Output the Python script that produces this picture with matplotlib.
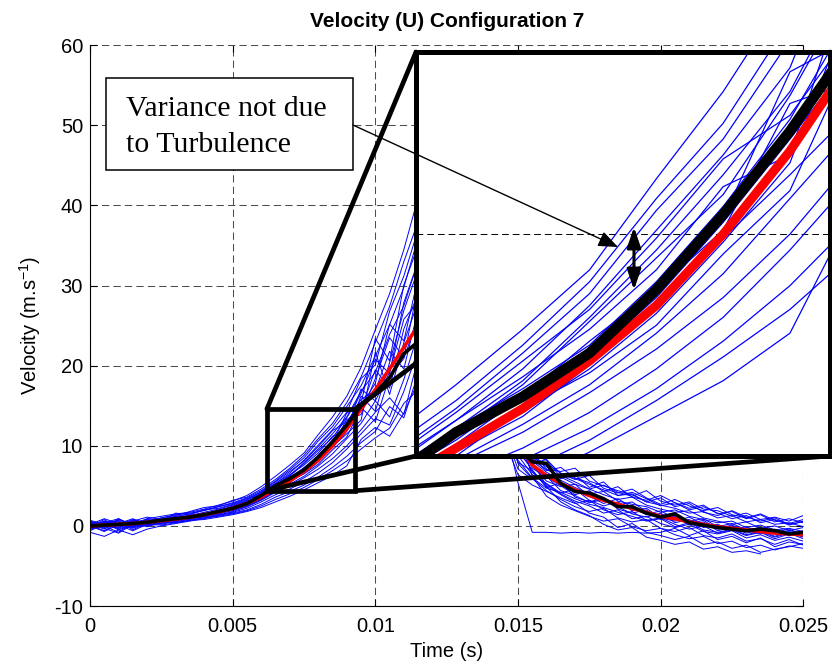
import numpy as np
import matplotlib
matplotlib.use('Agg')
import matplotlib.pyplot as plt
from matplotlib.patches import Rectangle, ConnectionPatch, FancyArrowPatch

nan = np.nan

# sample times (s)
time_s = [0.0000, 0.0005, 0.0010, 0.0015, 0.0020, 0.0025, 0.0030, 0.0035, 0.0040, 0.0045,
          0.0050, 0.0055, 0.0060, 0.0065, 0.0070, 0.0075, 0.0080, 0.0085, 0.0090, 0.0095,
          0.0100, 0.0105, 0.0110, 0.0115, 0.0120, 0.0125, 0.0130, 0.0135, 0.0140, 0.0145,
          0.0150, 0.0155, 0.0160, 0.0165, 0.0170, 0.0175, 0.0180, 0.0185, 0.0190, 0.0195,
          0.0200, 0.0205, 0.0210, 0.0215, 0.0220, 0.0225, 0.0230, 0.0235, 0.0240, 0.0245,
          0.0250]

# mean curves (m/s)
red_mean = [0.0, 0.1, 0.2, 0.3, 0.45, 0.65, 0.85, 1.1, 1.4, 1.75, 2.2,
            2.8, 3.6, 4.6, 5.6, 6.8, 8.2, 10.0, 12.1, 14.6, 17.0,
            19.6, 22.3, 25.0, 28.0, 30.0, 29.0, 25.0, 19.0, 14.0, 10.2,
            7.6, 6.3, 5.3, 4.5, 3.8, 3.2, 2.7, 2.2, 1.7, 1.2,
            0.9, 0.5, 0.2, -0.1, -0.3, -0.5, -0.7, -0.9, -1.0, -1.1]
black_mean = [0.0, 0.1, 0.2, 0.3, 0.45, 0.7, 0.9, 1.1, 1.4, 1.8, 2.2,
              2.8, 3.8, 5.0, 5.9, 7.0, 8.6, 10.5, 12.6, 15.0, 16.6,
              18.5, 21.5, 23.0, 27.0, 30.0, 29.0, 24.0, 18.0, 13.0, 9.8,
              8.0, 7.8, 5.3, 4.3, 4.1, 3.4, 2.4, 2.4, 1.6, 1.1,
              1.5, 0.4, 0.1, -0.2, -0.4, -0.6, -0.4, -0.6, -1.0, -0.8]

# individual cycles (m/s)
cycle_u1 = [0.3, -0.4, 0.8, 0.2, 0.9, 1.2, 1.5, 1.7, 2.1, 2.6, 3.1,
            3.8, 4.9, 6.2, 7.6, 9.1, 11.4, 13.6, 16.2, 19.8, 24.5,
            29.0, 34.5, 41.0, 48.0, 52.0, 50.0, 44.0, 36.0, 27.0, 19.0,
            8.9, 8.2, 6.1, 5.2, 4.6, 5.1, 4.2, 3.7, 4.4, 3.1,
            2.6, 3.0, 2.1, 1.9, 1.2, 1.6, 0.8, 1.1, 0.6, 1.3]
cycle_u2 = [-0.2, 0.6, 0.1, 0.7, 0.5, 1.0, 1.3, 1.8, 2.3, 2.5, 3.2,
            3.6, 4.6, 5.8, 7.2, 8.8, 10.9, 12.8, 15.4, 18.6, 22.9,
            27.4, 33.0, 38.0, 45.0, 49.0, 47.0, 40.0, 31.0, 22.0, 14.0,
            8.4, 6.9, 7.3, 6.0, 5.4, 4.3, 4.9, 3.6, 3.2, 3.8,
            2.9, 2.2, 2.6, 1.5, 1.8, 0.9, 1.4, 0.5, 0.9, 0.4]
cycle_u3 = [0.5, 0.1, -0.3, 0.6, 1.1, 0.8, 1.2, 1.5, 2.0, 2.4, 2.9,
            3.5, 4.4, 5.6, 7.0, 8.5, 10.6, 12.4, 14.9, 17.5, 21.2,
            25.1, 29.8, 36.0, 42.0, 46.0, 45.0, 39.0, 30.0, 21.0, 12.5,
            7.8, 8.3, 6.5, 5.8, 6.3, 4.7, 4.1, 4.6, 3.5, 2.7,
            3.3, 2.5, 1.9, 2.3, 1.4, 1.0, 1.5, 0.7, 0.3, 0.8]
cycle_u4 = [-0.5, 0.4, 0.9, -0.1, 0.6, 1.0, 1.4, 1.6, 1.9, 2.4, 2.8,
            3.4, 4.2, 5.3, 6.6, 8.2, 10.1, 12.0, 14.2, 18.4, 20.1,
            26.8, 31.2, 37.0, 43.0, 47.0, 44.0, 37.0, 28.0, 20.0, 13.0,
            9.2, 7.1, 6.8, 7.2, 5.6, 5.0, 4.4, 3.9, 3.0, 3.5,
            2.4, 2.8, 1.7, 1.3, 1.9, 1.1, 0.6, 1.0, 0.2, 0.5]
cycle_u5 = [0.2, 0.9, 0.3, 0.4, 0.8, 0.6, 1.6, 1.4, 2.0, 2.2, 2.7,
            3.3, 4.0, 5.1, 6.3, 7.9, 9.6, 11.5, 13.6, 16.8, 19.2,
            23.9, 27.5, 33.0, 40.0, 44.0, 43.0, 38.0, 30.0, 22.0, 15.0,
            8.6, 7.4, 5.9, 6.4, 4.8, 5.5, 3.8, 4.2, 3.4, 2.5,
            2.9, 2.0, 2.4, 1.6, 0.9, 1.3, 0.4, 0.8, 0.1, 0.6]
cycle_m1 = [0.1, -0.6, 0.4, 0.0, 0.3, 0.7, 0.9, 1.0, 1.3, 1.7, 2.1,
            2.7, 3.7, 4.9, 5.8, 6.9, 8.4, 10.3, 12.4, 14.6, 19.5,
            17.2, 24.6, 29.0, 36.0, 41.0, 40.0, 35.0, 27.0, 18.0, 11.0,
            7.2, 6.1, 5.0, 3.9, 4.4, 3.1, 2.6, 3.0, 1.8, 1.3,
            1.6, 0.6, 0.9, -0.1, 0.3, -0.5, -0.2, -0.8, -0.4, -1.1]
cycle_m2 = [-0.3, 0.5, 0.0, 0.6, 0.2, 0.5, 0.8, 1.2, 1.5, 1.9, 2.3,
            2.9, 3.9, 5.1, 6.1, 7.2, 8.8, 10.7, 12.9, 15.8, 16.9,
            21.8, 19.6, 27.0, 33.0, 38.0, 37.0, 31.0, 23.0, 15.0, 8.8,
            6.4, 5.3, 4.1, 4.6, 3.2, 2.5, 3.0, 1.9, 2.2, 1.0,
            0.6, 1.1, 0.2, -0.3, 0.1, -0.7, -0.3, -1.0, -0.6, -0.9]
cycle_m3 = [0.6, 0.0, -0.8, 0.4, 0.1, 0.6, 0.7, 1.0, 1.4, 1.6, 2.0,
            2.6, 3.5, 4.6, 5.5, 6.6, 8.0, 9.8, 11.8, 16.2, 14.3,
            20.4, 26.9, 32.0, 37.0, 39.0, 35.0, 28.0, 20.0, 13.0, 7.9,
            6.9, 4.8, 5.4, 3.6, 3.0, 3.5, 2.1, 1.6, 2.0, 0.8,
            1.2, 0.1, 0.5, -0.6, -0.2, -0.9, -0.5, -1.3, -0.7, -1.4]
cycle_m4 = [-0.6, 0.2, 0.7, -0.2, 0.5, 0.4, 1.0, 0.9, 1.3, 1.8, 2.2,
            2.8, 3.6, 4.7, 5.9, 7.3, 8.6, 10.1, 13.3, 13.9, 18.4,
            23.5, 21.0, 30.0, 35.0, 37.0, 34.0, 27.0, 19.0, 12.0, 7.1,
            5.8, 6.2, 4.4, 3.8, 2.9, 3.3, 2.4, 1.5, 1.1, 1.6,
            0.4, 0.8, -0.2, 0.2, -0.5, -0.1, -0.9, -0.4, -1.1, -0.8]
cycle_m5 = [0.4, -0.2, 0.3, 0.9, 0.2, 0.8, 0.8, 1.3, 1.6, 1.7, 2.4,
            3.0, 4.1, 5.3, 6.4, 7.6, 9.1, 11.2, 12.0, 17.1, 15.6,
            19.2, 25.8, 28.0, 34.0, 38.0, 36.0, 30.0, 22.0, 14.0, 9.0,
            7.5, 5.6, 4.9, 5.2, 3.7, 2.8, 3.4, 2.3, 1.4, 1.9,
            0.9, 0.3, 0.7, -0.4, 0.0, -0.6, -1.0, -0.5, -1.2, -0.6]
cycle_m6 = [-0.1, 0.8, -0.4, 0.3, 0.7, 0.3, 0.9, 1.1, 1.2, 1.6, 2.1,
            2.6, 3.4, 4.5, 5.4, 6.7, 8.3, 9.9, 11.5, 13.2, 21.7,
            16.4, 22.9, 28.0, 33.0, 36.0, 33.0, 26.0, 18.0, 11.0, 6.4,
            5.1, 4.3, 3.5, 2.8, 3.2, 2.0, 1.4, 1.8, 0.7, 1.0,
            0.2, -0.4, 0.0, -0.9, -0.5, -1.2, -0.8, -1.6, -1.0, -1.3]
cycle_m7 = [0.2, 0.3, 0.6, -0.5, 0.4, 0.9, 0.6, 1.1, 1.5, 1.9, 2.5,
            3.1, 3.8, 4.8, 6.0, 7.0, 8.5, 10.4, 14.1, 15.0, 17.8,
            25.2, 23.1, 31.0, 37.0, 40.0, 38.0, 32.0, 24.0, 16.0, 9.6,
            8.1, 6.7, 5.7, 4.8, 4.0, 4.3, 3.1, 2.7, 2.4, 1.7,
            2.0, 1.2, 0.8, 0.4, 0.6, -0.2, 0.1, -0.5, -0.3, -0.7]
cycle_m8 = [-0.2, -0.1, 0.9, 0.1, 0.0, 0.6, 1.1, 1.2, 1.4, 2.0, 2.3,
            2.9, 3.8, 5.0, 6.2, 7.8, 9.4, 11.0, 13.5, 16.5, 20.8,
            19.0, 27.9, 33.0, 39.0, 42.0, 39.0, 33.0, 25.0, 17.0, 10.8,
            8.4, 7.0, 6.3, 5.5, 4.6, 3.9, 3.3, 3.6, 2.6, 2.1,
            1.7, 1.9, 1.0, 0.6, 0.2, 0.5, -0.3, 0.0, -0.6, -0.2]
cycle_m9 = [0.7, 0.2, 0.1, 0.8, 0.3, 0.4, 0.7, 1.0, 1.3, 1.5, 2.0,
            2.5, 3.3, 4.4, 5.6, 6.5, 7.7, 9.5, 11.1, 14.8, 13.0,
            18.7, 20.9, 26.0, 32.0, 36.0, 35.0, 29.0, 21.0, 13.0, 8.2,
            6.0, 4.7, 4.2, 3.4, 2.7, 2.3, 1.7, 1.2, 0.6, 0.9,
            -0.1, 0.4, -0.5, -0.8, -0.4, -1.1, -0.7, -1.4, -0.9, -1.6]
cycle_m10 = [-0.1, 0.6, 0.5, -0.2, 0.9, 0.7, 1.2, 1.3, 1.7, 2.1, 2.6,
             3.2, 4.3, 5.5, 6.8, 8.1, 9.9, 11.9, 13.0, 15.3, 23.4,
             20.6, 30.1, 35.0, 41.0, 44.0, 41.0, 34.0, 26.0, 18.0, 12.0,
             8.5, 7.8, 6.6, 5.9, 5.2, 4.5, 3.8, 4.0, 3.0, 2.6,
             2.2, 1.6, 1.8, 1.0, 1.3, 0.5, 0.8, 0.2, 0.4, -0.1]
cycle_l1 = [-0.4, 0.1, -0.2, 0.5, -0.1, 0.4, 0.5, 0.9, 1.1, 1.4, 1.7,
            2.2, 3.0, 3.9, 4.6, 5.5, 6.6, 7.9, 9.6, 11.5, 13.4,
            12.6, 16.8, 22.0, 28.0, 33.0, 35.0, 32.0, 25.0, 17.0, 10.5,
            6.7, 5.2, 4.0, 3.1, 2.5, 1.6, 2.0, 0.9, 1.2, 0.3,
            -0.2, 0.2, -0.7, -1.0, -0.6, -1.5, -1.1, -1.8, -1.4, -1.9]
cycle_l2 = [0.0, -0.7, 0.2, -0.3, 0.3, 0.2, 0.6, 0.8, 1.0, 1.3, 1.6,
            2.0, 2.7, 3.6, 4.3, 5.1, 6.1, 7.3, 8.7, 10.4, 11.8,
            14.9, 13.5, 19.0, 25.0, 31.0, 34.0, 31.0, 24.0, 15.0, 7.8,
            5.9, 4.4, 3.3, 2.4, 1.8, 2.2, 1.0, 0.5, 0.8, -0.3,
            -0.7, -0.2, -1.2, -1.5, -1.0, -1.9, -1.6, -2.3, -1.7, -2.4]
cycle_l3 = [0.3, -0.3, -0.9, 0.2, 0.0, 0.5, 0.4, 0.7, 1.0, 1.2, 1.5,
            1.9, 2.5, 3.3, 4.0, 4.8, 5.8, 6.9, 8.1, 9.6, 11.0,
            12.2, 15.3, 17.0, 23.0, 29.0, 33.0, 33.0, 27.0, 19.0, 12.0,
            6.2, 3.7, 2.6, 1.9, 1.2, 0.6, 0.9, -0.1, -0.6, -0.3,
            -1.1, -1.6, -1.3, -2.2, -1.9, -2.7, -2.4, -3.0, -2.5, -2.8]
cycle_l4 = [-0.8, -1.3, -0.5, -1.1, -0.4, 0.0, 0.3, 0.6, 0.9, 1.3, 1.8,
            2.4, 3.2, 4.2, 5.0, 6.0, 7.1, 8.4, 10.0, 12.0, 14.2,
            16.0, 13.9, 21.0, 27.0, 32.0, 33.0, 29.0, 21.0, 13.0, 5.4,
            -0.8, -0.8, -0.9, -0.8, -0.9, -0.8, -0.9, -0.8, -0.9, -0.8,
            -0.3, -1.2, -0.6, -1.7, -1.3, -2.1, -1.5, -2.6, -2.0, -2.3]
cycle_l5 = [0.5, 0.2, 0.1, -0.6, 0.2, 0.1, 0.4, 0.7, 0.8, 1.1, 1.4,
            1.8, 2.3, 3.0, 3.7, 4.5, 5.4, 6.3, 7.5, 10.8, 12.3,
            11.2, 14.1, 18.0, 24.0, 30.0, 34.0, 34.0, 29.0, 21.0, 14.0,
            8.0, 5.0, 3.9, 2.9, 1.6, 1.1, -0.2, 0.3, -0.8, -1.2,
            -1.7, -1.3, -2.3, -2.0, -2.8, -2.4, -3.3, -2.9, -2.6, -2.2]
cycle_l6 = [0.1, 0.4, -0.5, 0.1, 0.6, 0.3, 0.6, 0.9, 1.2, 1.5, 1.9,
            2.4, 3.3, 4.3, 5.2, 6.2, 7.5, 9.0, 10.9, 12.8, 15.6,
            13.6, 18.3, 24.0, 30.0, 35.0, 36.0, 30.0, 22.0, 15.0, 9.4,
            7.0, 4.9, 3.0, 2.0, 1.3, 0.2, -0.5, -0.2, -1.4, -1.8,
            -2.3, -2.0, -2.9, -2.6, -3.3, -3.1, -3.5, nan, nan, nan]

cycles = [cycle_u1, cycle_u2, cycle_u3, cycle_u4, cycle_u5,
          cycle_m1, cycle_m2, cycle_m3, cycle_m4, cycle_m5,
          cycle_m6, cycle_m7, cycle_m8, cycle_m9, cycle_m10,
          cycle_l1, cycle_l2, cycle_l3, cycle_l4, cycle_l5, cycle_l6]
for c in cycles + [red_mean, black_mean]:
    assert len(c) == len(time_s)

x_ticks = [0, 0.005, 0.01, 0.015, 0.02, 0.025]
x_tick_labels = ['0', '0.005', '0.01', '0.015', '0.02', '0.025']
y_ticks = [-10, 0, 10, 20, 30, 40, 50, 60]

# zoomed window shown in the inset
zoom_t = (0.0062, 0.0093)
zoom_v = (4.4, 14.6)

plt.rcParams['font.family'] = ['Liberation Sans', 'DejaVu Sans']
plt.rcParams['mathtext.default'] = 'regular'
plt.rcParams['axes.unicode_minus'] = False

fig = plt.figure(figsize=(8.32, 6.64), dpi=100)
ax = fig.add_axes([0.1082, 0.0873, 0.8573, 0.8445])

for c in cycles:
    ax.plot(time_s, c, color='#0000ff', lw=0.7, zorder=2)
ax.plot(time_s, red_mean, color='red', lw=2.6, zorder=3)
ax.plot(time_s, black_mean, color='black', lw=2.6, zorder=4)

ax.set_xlim(0, 0.025)
ax.set_ylim(-10, 60)
ax.set_xticks(x_ticks)
ax.set_xticklabels(x_tick_labels)
ax.set_yticks(y_ticks)
ax.grid(True, color='0.3', lw=0.75, linestyle=(0, (7, 4)))
ax.set_axisbelow(True)
ax.spines['top'].set_visible(False)
ax.spines['right'].set_visible(False)
ax.tick_params(direction='in', length=5, width=0.8, labelsize=14.5,
               top=True, right=True)
ax.tick_params(axis='x', pad=8)
ax.tick_params(axis='y', pad=5)
ax.set_title('Velocity (U) Configuration 7', fontsize=15, fontweight='bold', pad=13)
ax.set_xlabel('Time (s)', fontsize=14.5, labelpad=4)
ax.set_ylabel('Velocity (m.s$^{-1}$)', fontsize=14.5)
ax.yaxis.set_label_coords(-0.066, 0.5)

# box marking the zoomed region
ax.add_patch(Rectangle((zoom_t[0], zoom_v[0]), zoom_t[1] - zoom_t[0], zoom_v[1] - zoom_v[0],
                       fill=False, ec='black', lw=3.4, zorder=6))

# inset
axins = fig.add_axes([0.5, 0.3133, 0.4976, 0.6084], zorder=5)
for c in cycles:
    axins.plot(time_s, c, color='#0000ff', lw=0.9)
axins.plot(time_s, red_mean, color='red', lw=6.5)
axins.plot(time_s, black_mean, color='black', lw=7.5)
axins.set_xlim(zoom_t)
axins.set_ylim(zoom_v)
axins.set_xticks([])
axins.set_yticks([10])
axins.tick_params(length=0, labelleft=False)
axins.grid(True, axis='y', color='black', lw=0.7, linestyle=(0, (7, 4)))
for s in axins.spines.values():
    s.set_linewidth(3.6)

# connector lines from box corners to inset corners
corners = [((zoom_t[0], zoom_v[1]), (0, 1)), ((zoom_t[1], zoom_v[1]), (1, 1)),
           ((zoom_t[0], zoom_v[0]), (0, 0)), ((zoom_t[1], zoom_v[0]), (1, 0))]
for a, b in corners:
    cp = ConnectionPatch(xyA=a, coordsA=ax.transData, xyB=b, coordsB=axins.transAxes,
                         color='black', lw=3.4, zorder=3)
    fig.add_artist(cp)

# annotation
fig.add_artist(Rectangle((0.1274, 0.744), 0.2969, 0.1386, transform=fig.transFigure,
                         fc='white', ec='black', lw=1.1, zorder=10))
fig.text(0.1514, 0.8258, 'Variance not due', fontsize=21.5, family='Liberation Serif',
         va='baseline', zorder=11)
fig.text(0.1514, 0.7715, 'to Turbulence', fontsize=21.5, family='Liberation Serif',
         va='baseline', zorder=11)
fig.add_artist(FancyArrowPatch((0.4243, 0.8117), (0.7428, 0.628), transform=fig.transFigure,
                               arrowstyle='-|>,head_length=0.6,head_width=0.24',
                               mutation_scale=20, lw=1.0, color='black',
                               shrinkA=0, shrinkB=0, zorder=11))
fig.add_artist(FancyArrowPatch((0.762, 0.5633), (0.762, 0.6581), transform=fig.transFigure,
                               arrowstyle='<|-|>,head_length=0.65,head_width=0.22',
                               mutation_scale=19, lw=2.2, color='black',
                               shrinkA=0, shrinkB=0, zorder=11))

fig.savefig('out.png', dpi=100)
